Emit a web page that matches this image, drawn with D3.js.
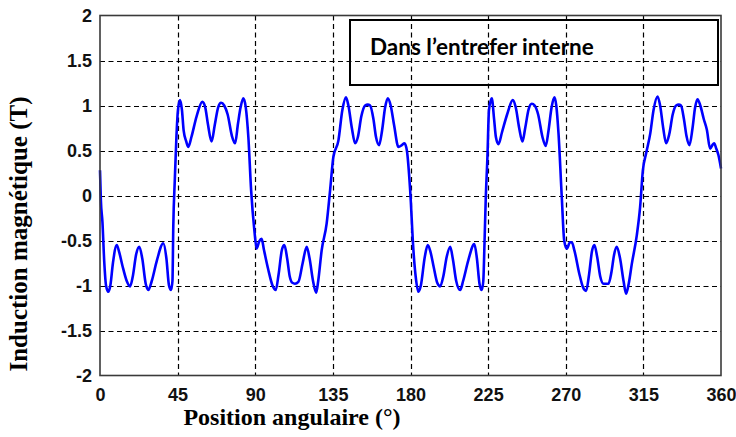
<!DOCTYPE html>
<html>
<head>
<meta charset="utf-8">
<script src="https://cdn.jsdelivr.net/npm/d3@7"></script>
<style>
  html, body { margin: 0; padding: 0; background: #fff; }
  svg { display: block; }
</style>
</head>
<body>
<svg id="chart" width="736" height="437"></svg>
<script>
// ---- data ----
const angleDeg = [
  0, 0.5, 1.4, 2.5, 3.5, 4.8, 6, 7.5, 9.7, 11, 13, 15.5, 17.4, 19, 21, 22.8, 24.5, 26.5, 28, 30, 33, 36.7, 38.5, 40, 41.2, 42,
  42.5, 43.4, 44.3, 45.2, 46.4, 47.5, 48.5, 50, 51.2, 53, 56, 59.3, 61, 62.5, 64.7, 66.5, 68.5, 70.2, 72, 74, 76.5, 78.3, 80, 81.5, 83.1, 84.5,
  86, 87.6, 89.5, 90.8, 92.3, 93.7, 95, 97.5, 100, 101.9, 103.5, 105.5, 106.9, 108.5, 110, 111.5, 113, 115, 117.5, 119.8, 121.5, 123.5, 125.3, 126.5,
  128.5, 131.4, 133.4, 135.3, 138.2, 140.5, 142.6, 144, 146, 147.9, 149.5, 151.5, 153.7, 155.2, 156.6, 158.5, 160, 161.8, 163.5, 165.3, 166.8, 168.5,
  170.5, 173, 175, 176.5, 177.9, 179.8, 181.7, 183, 184.6, 186, 188.3, 190, 191.5, 193.5, 195.5, 197.2, 199, 201, 203, 204.5, 206.5, 208.8, 210.5,
  213.5, 217, 218.5, 220, 221.3, 222.2, 222.9, 223.6, 224.6, 225.5, 227.1, 228.5, 229.5, 231, 233, 236, 239.3, 241, 243, 244.9, 246.5, 248.5, 250.3,
  252, 254, 256.5, 258.4, 260, 261.8, 263.4, 264.5, 265.8, 267.7, 269.1, 270.6, 272.5, 273.5, 275, 278, 280, 281.8, 283.5, 285.2, 286.6, 288.2, 290,
  291.9, 294.8, 296.5, 298, 299.6, 301.5, 303.5, 305, 306.5, 308.3, 311.2, 313.1, 314.7, 316.6, 319, 320.9, 323.2, 324.7, 326.5, 328.2, 330, 332,
  334, 335.5, 336.8, 338.5, 340, 341.7, 343.5, 345, 346.4, 348, 350, 351.8, 353.7, 355, 356, 357.3, 358.5, 360
];
const inductionT = [
  0.28, -0.05, -0.29, -0.75, -1.0, -1.07, -1.0, -0.75, -0.55, -0.62, -0.78, -0.95, -1.01, -0.9, -0.65, -0.57, -0.7, -0.98, -1.05, -0.95, -0.72, -0.53, -0.7, -1.0, -1.05, -0.95,
  -0.33, 0.19, 0.65, 0.95, 1.06, 0.95, 0.72, 0.6, 0.54, 0.65, 0.88, 1.04, 0.98, 0.8, 0.6, 0.78, 0.98, 1.03, 1.0, 0.9, 0.66, 0.58, 0.8, 0.98, 1.08, 0.98,
  0.65, 0.06, -0.39, -0.59, -0.51, -0.48, -0.6, -0.82, -1.0, -1.05, -0.88, -0.6, -0.55, -0.7, -0.9, -0.97, -0.98, -0.96, -0.75, -0.57, -0.7, -0.95, -1.08, -0.95,
  -0.61, -0.31, 0.06, 0.43, 0.61, 0.95, 1.09, 1.0, 0.75, 0.58, 0.65, 0.88, 1.0, 1.01, 1.0, 0.85, 0.65, 0.56, 0.72, 0.98, 1.08, 1.0,
  0.78, 0.54, 0.56, 0.58, 0.5, 0.06, -0.61, -0.9, -1.07, -1.0, -0.68, -0.55, -0.62, -0.8, -0.97, -1.01, -0.9, -0.68, -0.57, -0.7, -0.95, -1.05, -0.95,
  -0.72, -0.54, -0.7, -0.98, -1.05, -0.95, -0.53, -0.05, 0.43, 0.95, 1.08, 0.84, 0.65, 0.57, 0.7, 0.9, 1.06, 0.98, 0.75, 0.6, 0.75, 0.96, 1.02,
  1.0, 0.9, 0.65, 0.55, 0.72, 0.98, 1.09, 1.0, 0.69, -0.02, -0.5, -0.59, -0.52, -0.52, -0.61, -0.88, -1.02, -1.06, -0.88, -0.62, -0.55, -0.68, -0.9,
  -0.98, -0.98, -0.85, -0.66, -0.57, -0.7, -0.95, -1.09, -0.98, -0.76, -0.44, -0.13, 0.28, 0.47, 0.69, 0.95, 1.1, 1.0, 0.75, 0.58, 0.68, 0.9,
  1.0, 1.01, 1.0, 0.85, 0.66, 0.56, 0.75, 0.98, 1.07, 1.0, 0.85, 0.73, 0.52, 0.56, 0.58, 0.52, 0.45, 0.3
];
const xTicks = [0, 45, 90, 135, 180, 225, 270, 315, 360];
const yTicks = [-2, -1.5, -1, -0.5, 0, 0.5, 1, 1.5, 2];
const xTickLabels = ["0", "45", "90", "135", "180", "225", "270", "315", "360"];
const yTickLabels = ["-2", "-1.5", "-1", "-0.5", "0", "0.5", "1", "1.5", "2"];
const xTitle = "Position angulaire (°)";
const yTitle = "Induction magnétique (T)";
const legendText = "Dans l\u2019entrefer interne";

// ---- layout ----
const plot = { left: 100, right: 721, top: 15.5, bottom: 375.5 };
const svg = d3.select("#chart");

const x = d3.scaleLinear().domain([0, 360]).range([plot.left, plot.right]);
const y = d3.scaleLinear().domain([-2, 2]).range([plot.bottom, plot.top]);

// grid
const grid = svg.append("g").attr("stroke", "#000").attr("stroke-width", 1.2).attr("stroke-dasharray", "5,3.5");
grid.selectAll("line.v").data(xTicks.slice(1, -1)).enter().append("line")
  .attr("x1", d => Math.round(x(d)) + 0.5).attr("x2", d => Math.round(x(d)) + 0.5)
  .attr("y1", plot.top).attr("y2", plot.bottom);
grid.selectAll("line.h").data(yTicks.slice(1, -1)).enter().append("line")
  .attr("x1", plot.left).attr("x2", plot.right)
  .attr("y1", d => Math.round(y(d)) + 0.5).attr("y2", d => Math.round(y(d)) + 0.5);

// legend box (no fill, grid visible through it)
svg.append("rect")
  .attr("x", 350).attr("y", 20).attr("width", 368).attr("height", 65)
  .attr("fill", "none").attr("stroke", "#000").attr("stroke-width", 2);
svg.append("text")
  .attr("x", 370).attr("y", 55)
  .attr("font-family", "Lato, 'Open Sans', sans-serif")
  .attr("font-weight", "bold").attr("font-size", 22.5)
  .attr("fill", "#000")
  .text(legendText);

// curve
const line = d3.line()
  .x((d, i) => x(angleDeg[i]))
  .y(d => y(d))
  .curve(d3.curveMonotoneX);
svg.append("path")
  .datum(inductionT)
  .attr("d", line)
  .attr("fill", "none")
  .attr("stroke", "#0000ff")
  .attr("stroke-width", 2.6)
  .attr("stroke-linejoin", "round");

// frame
svg.append("rect")
  .attr("x", plot.left).attr("y", plot.top)
  .attr("width", plot.right - plot.left).attr("height", plot.bottom - plot.top)
  .attr("fill", "none").attr("stroke", "#3a3a3a").attr("stroke-width", 1.6);

// axes (labels through d3 axes)
const xAxis = d3.axisBottom(x).tickValues(xTicks).tickFormat((d, i) => xTickLabels[i]).tickSize(0).tickPadding(0);
const yAxis = d3.axisLeft(y).tickValues(yTicks).tickFormat((d, i) => yTickLabels[i]).tickSize(0).tickPadding(0);

const gx = svg.append("g").attr("transform", `translate(0,${plot.bottom})`).call(xAxis);
gx.select(".domain").remove();
gx.selectAll("text")
  .attr("y", 0).attr("dy", null)
  .attr("transform", "translate(0,25)")
  .attr("font-family", "'Liberation Sans', Arial, sans-serif")
  .attr("font-weight", "bold").attr("font-size", 18).attr("fill", "#111");

const gy = svg.append("g").attr("transform", `translate(${plot.left},0)`).call(yAxis);
gy.select(".domain").remove();
gy.selectAll("text")
  .attr("x", -8).attr("dy", "0.36em")
  .attr("font-family", "'Liberation Sans', Arial, sans-serif")
  .attr("font-weight", "bold").attr("font-size", 18).attr("fill", "#111");

// titles
svg.append("text")
  .attr("x", 292).attr("y", 425)
  .attr("text-anchor", "middle")
  .attr("font-family", "'Liberation Serif', 'Times New Roman', serif")
  .attr("font-weight", "bold").attr("font-size", 24).attr("fill", "#000")
  .text(xTitle);
svg.append("text")
  .attr("transform", "translate(27,234) rotate(-90)")
  .attr("text-anchor", "middle")
  .attr("font-family", "'Liberation Serif', 'Times New Roman', serif")
  .attr("font-weight", "bold").attr("font-size", 25).attr("fill", "#000")
  .text(yTitle);
</script>
</body>
</html>
